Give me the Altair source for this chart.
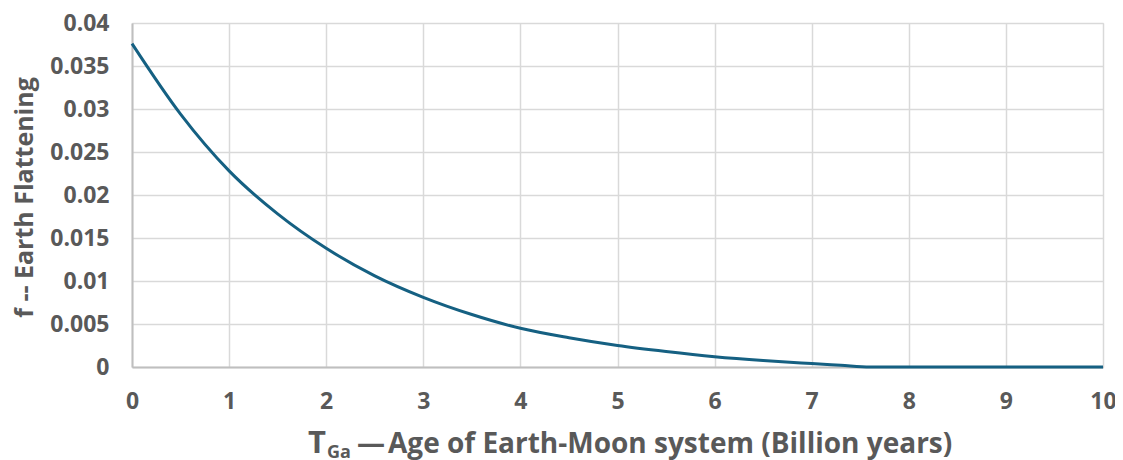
import altair as alt
import pandas as pd

# Data
age_gyr = [0, 0.5, 1, 1.5, 2, 2.5, 3, 3.5, 4, 4.5, 5, 5.5, 6, 6.5, 7, 7.3, 7.6, 8, 8.5, 9, 9.5, 10]
flattening = [0.0376, 0.0294, 0.0228, 0.0178, 0.0138, 0.0106, 0.0081, 0.0061, 0.0045, 0.0034,
              0.0025, 0.0018, 0.0012, 0.00075, 0.0004, 0.0002, 0.0, 0.0, 0.0, 0.0, 0.0, 0.0]
x_ticks = [0, 1, 2, 3, 4, 5, 6, 7, 8, 9, 10]
y_ticks = [0, 0.005, 0.01, 0.015, 0.02, 0.025, 0.03, 0.035, 0.04]

FONT = "Open Sans"
TXT = "#595959"
W, H = 971, 344

df = pd.DataFrame({"age": age_gyr, "f": flattening})

line = alt.Chart(df).mark_line(color="#156082", strokeWidth=3, interpolate="monotone").encode(
    x=alt.X("age:Q", scale=alt.Scale(domain=[0, 10], nice=False),
            axis=alt.Axis(values=x_ticks, title=None, grid=True, gridColor="#D9D9D9", gridWidth=1.5,
                          domainColor="#BFBFBF", domainWidth=2, ticks=False, format="d",
                          labelFont=FONT, labelFontSize=23, labelFontWeight="bold", labelColor=TXT,
                          labelPadding=23, labelFlush=False)),
    y=alt.Y("f:Q", scale=alt.Scale(domain=[0, 0.04], nice=False),
            axis=alt.Axis(values=y_ticks, grid=True, gridColor="#D9D9D9", gridWidth=1.5,
                          domainColor="#BFBFBF", domainWidth=2, ticks=False, format="~g",
                          labelFont=FONT, labelFontSize=23, labelFontWeight="bold", labelColor=TXT,
                          labelPadding=23, labelFlush=False,
                          title="f -- Earth Flattening", titleFont=FONT, titleFontSize=25,
                          titleFontWeight="bold", titleColor=TXT, titleX=-100, titleY=174,
                          titleAngle=270, titleAlign="center", titleBaseline="alphabetic")),
)

one = pd.DataFrame({"k": [0]})


def label(txt, x, y, size):
    return alt.Chart(one).mark_text(font=FONT, fontSize=size, fontWeight="bold", color=TXT,
                                    align="left", baseline="alphabetic").encode(
        x=alt.value(x), y=alt.value(y), text=alt.value(txt))


t_main = label("T", 176, 430, 31)
t_sub = label("Ga", 195, 435, 18)
t_dash = label("\u2014", 225, 430, 28)
t_rest = label("Age of Earth-Moon system (Billion years)", 256, 430, 28)

chart = alt.layer(line, t_main, t_sub, t_dash, t_rest).properties(
    width=W, height=H,
    autosize=alt.AutoSizeParams(type="none"),
    padding={"left": 124, "top": 15, "right": 12, "bottom": 100},
).configure_view(stroke=None).configure(background="white")

chart.save("out.html", embed_options={"renderer": "svg", "actions": False})
